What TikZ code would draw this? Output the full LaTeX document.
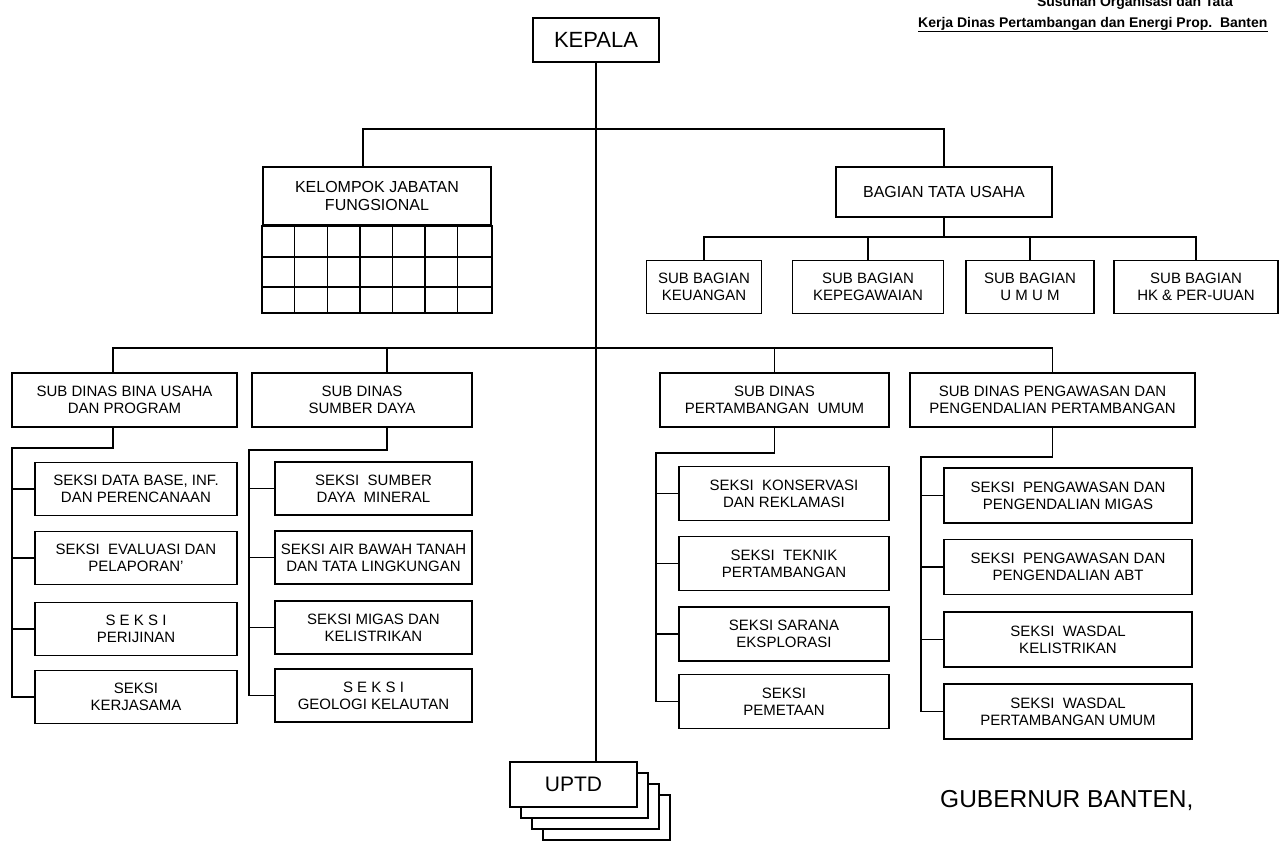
\documentclass[tikz,border=0pt]{standalone}
\usepackage{fontspec}
\setmainfont{Liberation Sans}

\begin{document}
\begin{tikzpicture}[x=1pt,y=-1pt]
\tikzset{unit/.style = {draw, line width=1.7pt, inner sep=0pt, align=center, font=\fontsize{15}{17}\selectfont}}
\tikzset{link/.style = {line width=1.5pt}}
\useasboundingbox (0,0) rectangle (1283,844);
\fill[white] (0,0) rectangle (1283,844);

% heading
\node[anchor=base east, inner sep=0pt, font=\bfseries\fontsize{14}{16}\selectfont] (title0) at (1233,6) {Susunan Organisasi dan Tata};
\node[anchor=base west, inner sep=0pt, font=\bfseries\fontsize{14}{16}\selectfont] (title) at (918,27) {\underline{Kerja Dinas Pertambangan dan Energi Prop.\ \ Banten}};

% top level
\node[unit, minimum width=126pt, minimum height=44pt, font=\fontsize{22}{26}\selectfont] (kepala) at (596,40) {KEPALA};
\node[unit, minimum width=228pt, minimum height=58pt, font=\fontsize{16}{18}\selectfont] (kjf) at (377,196) {KELOMPOK JABATAN\\FUNGSIONAL};
\node[unit, minimum width=216pt, minimum height=50pt, font=\fontsize{16}{18}\selectfont] (bts) at (944,192) {BAGIAN TATA USAHA};

% grid under kelompok jabatan
\draw[line width=1.7pt] (kjf.south west) rectangle ([yshift=-87pt]kjf.south east);
\foreach \i in {1,...,6} \draw[link] ([xshift=\i*32.57pt]kjf.south west) -- ++(0,87);
\foreach \d in {31,61} \draw[link] ([yshift=-\d pt]kjf.south west) -- ([yshift=-\d pt]kjf.south east);

% sub bagian
\node[unit, minimum width=115pt, minimum height=53pt] (keu) at (704,287) {SUB BAGIAN\\KEUANGAN};
\node[unit, minimum width=151pt, minimum height=53pt] (kpg) at (868,287) {SUB BAGIAN\\KEPEGAWAIAN};
\node[unit, minimum width=128pt, minimum height=53pt] (umum) at (1030,287) {SUB BAGIAN\\U M U M};
\node[unit, minimum width=164pt, minimum height=53pt] (hk) at (1196,287) {SUB BAGIAN\\HK \& PER-UUAN};

% sub dinas
\node[unit, minimum width=225pt, minimum height=54pt] (sdb) at (124.5,400) {SUB DINAS BINA USAHA\\DAN PROGRAM};
\node[unit, minimum width=220pt, minimum height=54pt] (sds) at (362,400) {SUB DINAS\\SUMBER DAYA};
\node[unit, minimum width=229pt, minimum height=54pt] (sdp) at (774.5,400) {SUB DINAS\\PERTAMBANGAN~ UMUM};
\node[unit, minimum width=285pt, minimum height=54pt] (sdw) at (1052.5,400) {SUB DINAS PENGAWASAN DAN\\PENGENDALIAN PERTAMBANGAN};

% seksi
\node[unit, minimum width=202pt, minimum height=53pt] (s11) at (136,489) {SEKSI DATA BASE, INF.\\DAN PERENCANAAN};
\node[unit, minimum width=202pt, minimum height=53pt] (s12) at (136,558) {SEKSI~ EVALUASI DAN\\PELAPORAN'};
\node[unit, minimum width=202pt, minimum height=53pt] (s13) at (136,629) {S E K S I\\PERIJINAN};
\node[unit, minimum width=202pt, minimum height=53pt] (s14) at (136,697) {SEKSI\\KERJASAMA};

\node[unit, minimum width=197pt, minimum height=53pt] (s21) at (373.5,488.5) {SEKSI~ SUMBER\\DAYA~ MINERAL};
\node[unit, minimum width=197pt, minimum height=53pt] (s22) at (373.5,557.5) {SEKSI AIR BAWAH TANAH\\DAN TATA LINGKUNGAN};
\node[unit, minimum width=197pt, minimum height=53pt] (s23) at (373.5,627.5) {SEKSI MIGAS DAN\\KELISTRIKAN};
\node[unit, minimum width=197pt, minimum height=53pt] (s24) at (373.5,695.5) {S E K S I\\GEOLOGI KELAUTAN};

\node[unit, minimum width=210pt, minimum height=54pt] (s31) at (784,493.5) {SEKSI~ KONSERVASI\\DAN REKLAMASI};
\node[unit, minimum width=210pt, minimum height=54pt] (s32) at (784,563.5) {SEKSI~ TEKNIK\\PERTAMBANGAN};
\node[unit, minimum width=210pt, minimum height=54pt] (s33) at (784,634) {SEKSI SARANA\\EKSPLORASI};
\node[unit, minimum width=210pt, minimum height=54pt] (s34) at (784,701.5) {SEKSI\\PEMETAAN};

\node[unit, minimum width=248pt, minimum height=55pt] (s41) at (1068,495.5) {SEKSI~ PENGAWASAN DAN\\PENGENDALIAN MIGAS};
\node[unit, minimum width=248pt, minimum height=55pt] (s42) at (1068,567) {SEKSI~ PENGAWASAN DAN\\PENGENDALIAN ABT};
\node[unit, minimum width=248pt, minimum height=55pt] (s43) at (1068,639.5) {SEKSI~ WASDAL\\KELISTRIKAN};
\node[unit, minimum width=248pt, minimum height=55pt] (s44) at (1068,711.5) {SEKSI~ WASDAL\\PERTAMBANGAN UMUM};

% uptd with stacked sheets
\foreach \k in {3,2,1} \draw[line width=1.5pt, fill=white] (510+\k*11,762+\k*11) rectangle +(127,45);
\node[unit, fill=white, minimum width=127pt, minimum height=45pt, font=\fontsize{21}{24}\selectfont] (uptd) at (573.5,784.5) {UPTD};

\node[anchor=base west, inner sep=0pt, font=\fontsize{24.5}{28}\selectfont] (gub) at (940,807) {GUBERNUR BANTEN,};

% junctions
\coordinate (t1) at (596,129);
\coordinate (t2) at (944,237);
\coordinate (t3) at (596,348);
\coordinate (v1) at (12,448);
\coordinate (v2) at (249,450);
\coordinate (v3) at (656,453);
\coordinate (v4) at (921,457);

\draw[link] (kepala.south) -- (kepala.south |- uptd.north);
\draw[link] ([xshift=-14pt]kjf.north) |- (t1) -| (bts.north);
\draw[link] (bts.south) -- (t2);
\draw[link] (keu.north) |- (t2) -| (hk.north);
\foreach \n in {kpg,umum} \draw[link] (t2 -| \n.north) -- (\n.north);

\draw[link] ([xshift=-11.5pt]sdb.north) |- (t3) -| (sdw.north);
\draw[link] ([xshift=25pt]sds.north) -- ([xshift=25pt]sds.north |- t3);
\draw[link] (sdp.north) -- (sdp.north |- t3);

\draw[link] ([xshift=-11.5pt]sdb.south) |- (v1) |- (s14.west);
\draw[link] ([xshift=25pt]sds.south) |- (v2) |- (s24.west);
\draw[link] (sdp.south) |- (v3) |- (s34.west);
\draw[link] (sdw.south) |- (v4) |- (s44.west);
\foreach \c in {1,...,4}
  \foreach \r in {1,2,3}
    \draw[link] (v\c |- s\c\r.west) -- (s\c\r.west);
\end{tikzpicture}
\end{document}
